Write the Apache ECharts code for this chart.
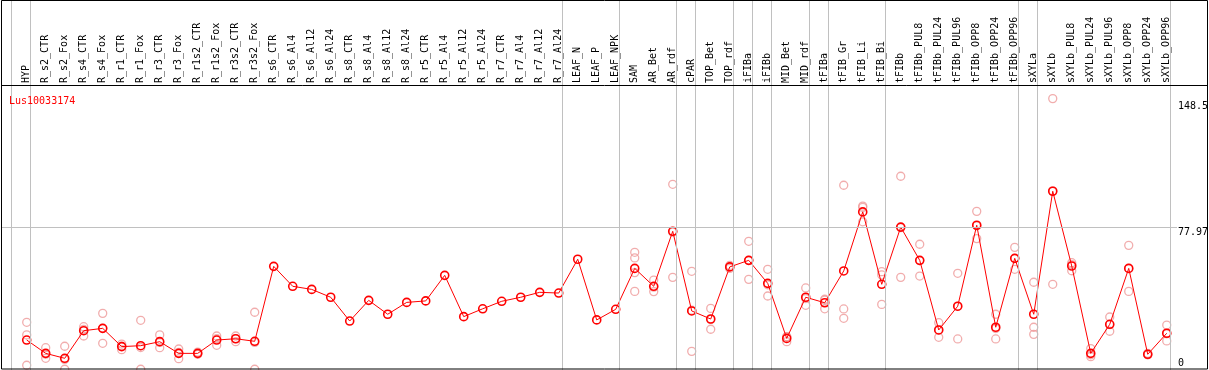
<!DOCTYPE html>
<html>
<head>
<meta charset="utf-8">
<script src="https://cdn.jsdelivr.net/npm/echarts@6/dist/echarts.min.js"></script>
<style>
html,body{margin:0;padding:0;background:#fff;}
#chart{width:1209px;height:370px;}
</style>
</head>
<body>
<div id="chart"></div>
<script>
const geneName = 'Lus10033174';

const categories = ['HYP','R_s2_CTR','R_s2_Fox','R_s4_CTR','R_s4_Fox','R_r1_CTR','R_r1_Fox','R_r3_CTR','R_r3_Fox',
  'R_r1s2_CTR','R_r1s2_Fox','R_r3s2_CTR','R_r3s2_Fox','R_s6_CTR','R_s6_Al4','R_s6_Al12','R_s6_Al24',
  'R_s8_CTR','R_s8_Al4','R_s8_Al12','R_s8_Al24','R_r5_CTR','R_r5_Al4','R_r5_Al12','R_r5_Al24',
  'R_r7_CTR','R_r7_Al4','R_r7_Al12','R_r7_Al24','LEAF_N','LEAF_P','LEAF_NPK','SAM','AR_Bet','AR_rdf',
  'cPAR','TOP_Bet','TOP_rdf','iFIBa','iFIBb','MID_Bet','MID_rdf','tFIBa','tFIB_Gr','tFIB_Li','tFIB_Bi',
  'tFIBb','tFIBb_PUL8','tFIBb_PUL24','tFIBb_PUL96','tFIBb_OPP8','tFIBb_OPP24','tFIBb_OPP96',
  'sXYLa','sXYLb','sXYLb_PUL8','sXYLb_PUL24','sXYLb_PUL96','sXYLb_OPP8','sXYLb_OPP24','sXYLb_OPP96'];

const means = [16.4,9.1,6.4,21.5,22.8,12.8,13.3,15.5,9.1,
  9.1,16.4,17.1,15.7,56.7,45.8,44.1,39.8,
  26.8,38.1,30.5,37.0,37.8,51.8,29.2,33.5,
  37.6,39.8,42.5,42.1,60.6,27.4,33.2,55.6,45.8,75.9,
  32.3,27.9,56.4,60.0,47.4,17.3,39.8,36.8,54.2,86.5,46.9,
  78.2,60.0,21.9,34.9,79.2,23.4,61.1,
  30.5,97.8,56.9,9.1,25.0,55.6,8.6,20.1];

const replicates = [
  [26.1,19.2,2.6],[12.2,8.7,6.4],[13.0,5.8,0.4],[23.7,22.2,18.6],[31.0,22.8,14.6],
  [14.2,13.1,11.1],[27.2,12.3,0.4],[19.2,15.1,12.2],[11.5,9.6,6.2],
  [9.8,8.9,8.6],[18.6,17.1,13.5],[18.6,17.2,15.5],[31.6,15.1,0.4],
  [],[],[],[],[],[],[],[],[],[],[],[],[],[],[],[],[],[],[],
  [64.4,61.3,53.3,43.0],[49.2,45.3,42.9],[101.6,75.4,50.7],
  [54.0,32.7,10.2],[33.7,27.7,22.3],[57.2,56.4,55.6],[70.4,60.0,49.6],[55.1,46.6,40.5],
  [18.2,18.2,15.5],[44.9,39.1,35.4],[38.7,38.2,33.5],[101.1,33.4,28.3],[89.7,89.0,81.1],[53.8,52.0,35.9],
  [106.0,77.9,50.7],[68.8,59.8,51.4],[25.9,21.9,17.9],[52.9,34.8,17.0],[86.8,78.9,71.9],[30.5,22.7,17.0],[67.1,61.1,55.1],
  [48.0,23.4,19.5],[148.5,98.0,46.9],[58.7,57.7,54.3],[11.7,8.3,7.3],[29.0,24.8,21.2],[68.2,55.6,43.0],[9.1,8.4,8.3],[24.6,19.8,15.9]
];

// group separators drawn just after these category indices
const separatorsAfter = [-1,0,28,31,34,35,37,38,39,41,42,45,52,53,60];
// right-hand value labels
const yTickLabels = [148.5, 77.97, 0];

const FONT = 'DejaVu Sans Mono';
const xMin = -1.353, xMax = 60.54, yMax = 202.45;

const chart = echarts.init(document.getElementById('chart'), null, {renderer:'canvas'});

const repData = [];
replicates.forEach((r, i) => r.forEach(v => repData.push([i, v])));

chart.setOption({
  animation: false,
  backgroundColor: '#fff',
  title: {
    text: geneName, left: 4, top: 91,
    textStyle: {color:'#ff0000', fontSize:10, fontWeight:'normal', fontFamily: FONT}
  },
  grid: {left: 1, right: 32, top: 0, bottom: 0, containLabel: false},
  xAxis: {
    type: 'value', min: xMin, max: xMax, position: 'top', offset: -85,
    axisLine: {show:false}, axisTick: {show:false}, splitLine: {show:false},
    axisLabel: {
      customValues: categories.map((_, i) => i),
      formatter: v => categories[Math.round(v)] || '',
      rotate: 90, margin: 2, fontSize: 10, fontFamily: FONT, color: '#000'
    }
  },
  yAxis: {
    type: 'value', min: 0, max: yMax, show: false
  },
  graphic: [
    {type:'rect', shape:{x:1.5, y:0.5, width:1206, height:368.5}, style:{fill:'none', stroke:'#000', lineWidth:1}, z:100, silent:true},
    {type:'line', shape:{x1:1, y1:85.5, x2:1208, y2:85.5}, style:{stroke:'#000', lineWidth:1}, z:100, silent:true}
  ],
  series: [
    {
      type: 'scatter', data: repData, symbol: 'circle', symbolSize: 8,
      itemStyle: {color: 'rgba(0,0,0,0)', borderColor: '#ee9999', borderWidth: 1.3},
      z: 2, silent: true,
      markLine: {
        silent: true, symbol: ['none','none'], animation: false,
        label: {show: false},
        lineStyle: {color:'#c0c0c0', width:1, type:'solid'},
        data: separatorsAfter.map(i => ({xAxis: i + 0.21}))
      }
    },
    {
      type: 'line', data: means.map((v, i) => [i, v]), symbol: 'circle', symbolSize: 8,
      lineStyle: {color:'#ff0000', width:1},
      itemStyle: {color: 'rgba(0,0,0,0)', borderColor:'#ff0000', borderWidth: 1.6},
      z: 3, silent: true,
      markLine: {
        silent: true, symbol: ['none','none'], animation: false,
        data: yTickLabels.map(v => ({
          yAxis: v,
          lineStyle: {color: v === 77.97 ? '#c0c0c0' : 'rgba(0,0,0,0)', width:1, type:'solid'},
          label: {show:true, position:'end', distance: 1, formatter: () => String(v),
                  color:'#000', fontSize:10, fontFamily: FONT,
                  verticalAlign: v === 0 ? 'bottom' : 'top',
                  padding: v === 148.5 ? [3,0,0,0] : (v === 0 ? [0,0,2,0] : 0)}
        }))
      }
    }
  ]
});
</script>
</body>
</html>
